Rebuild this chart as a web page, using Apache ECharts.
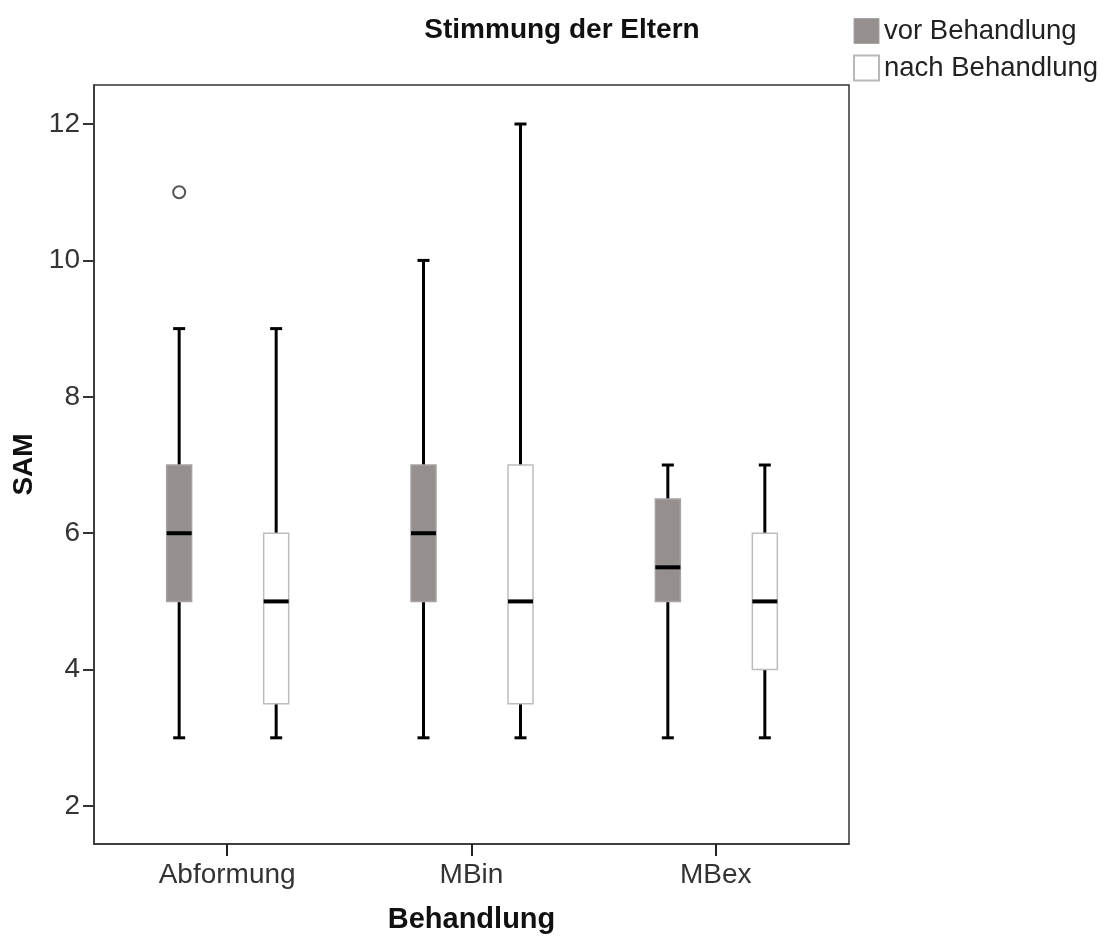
<!DOCTYPE html>
<html>
<head>
<meta charset="utf-8">
<script src="https://cdn.jsdelivr.net/npm/echarts@6/dist/echarts.min.js"></script>
<style>
  html, body { margin: 0; padding: 0; background: #fff; }
  #chart { width: 1106px; height: 942px; }
</style>
</head>
<body>
<div id="chart"></div>
<script>
// Kategorien und Kennwerte [min, Q1, Median, Q3, max]
var categories = ['Abformung', 'MBin', 'MBex'];
var vorStats = [[3, 5, 6, 7, 9], [3, 5, 6, 7, 10], [3, 5, 5.5, 6.5, 7]];
var nachStats = [[3, 3.5, 5, 6, 9], [3, 3.5, 5, 7, 12], [3, 4, 5, 6, 7]];
// Ausreisser: [Kategorie, Wert]
var vorOutliers = [[0, 11]];
var nachOutliers = [];
var yTicks = [2, 4, 6, 8, 10, 12];

var fontFam = '"Liberation Sans", Arial, sans-serif';
var GREY = '#958f8e';

function toData(stats) {
    return stats.map(function (s, i) { return [i].concat(s); });
}

// Box zeichnen, offset = Versatz in px zur Kategoriemitte
function boxRenderer(offset, fill, stroke) {
    return function (params, api) {
        var c = api.value(0);
        var pMin = api.coord([c, api.value(1)]);
        var pQ1 = api.coord([c, api.value(2)]);
        var pMed = api.coord([c, api.value(3)]);
        var pQ3 = api.coord([c, api.value(4)]);
        var pMax = api.coord([c, api.value(5)]);
        var x = pMin[0] + offset;
        var bw = 25, cw = 12;
        var wStyle = { stroke: '#000', lineWidth: 3 };
        return {
            type: 'group',
            children: [
                { type: 'line', shape: { x1: x, y1: pMin[1], x2: x, y2: pQ1[1] }, style: wStyle },
                { type: 'line', shape: { x1: x, y1: pQ3[1], x2: x, y2: pMax[1] }, style: wStyle },
                { type: 'line', shape: { x1: x - cw / 2, y1: pMin[1], x2: x + cw / 2, y2: pMin[1] }, style: wStyle },
                { type: 'line', shape: { x1: x - cw / 2, y1: pMax[1], x2: x + cw / 2, y2: pMax[1] }, style: wStyle },
                { type: 'rect', shape: { x: x - bw / 2, y: pQ3[1], width: bw, height: pQ1[1] - pQ3[1] },
                  style: { fill: fill, stroke: stroke, lineWidth: 1.5 } },
                { type: 'line', shape: { x1: x - bw / 2, y1: pMed[1], x2: x + bw / 2, y2: pMed[1] },
                  style: { stroke: '#000', lineWidth: 4 } }
            ]
        };
    };
}

var chart = echarts.init(document.getElementById('chart'));

chart.setOption({
    backgroundColor: '#fff',
    animation: false,
    textStyle: { fontFamily: fontFam },
    title: {
        text: 'Stimmung der Eltern',
        left: 557,
        top: 11,
        textAlign: 'center',
        textStyle: { fontFamily: fontFam, fontSize: 28, fontWeight: 'bold', color: '#111' }
    },
    legend: {
        orient: 'vertical',
        left: 853,
        top: 17,
        padding: 0,
        itemWidth: 25,
        itemHeight: 25,
        itemGap: 9,
        icon: 'rect',
        textStyle: { fontFamily: fontFam, fontSize: 27.5, color: '#222', padding: [0, 0, 0, 0] },
        data: [
            { name: 'vor Behandlung', itemStyle: { color: GREY, borderColor: '#a8a3a2', borderWidth: 1 } },
            { name: 'nach Behandlung', itemStyle: { color: '#fff', borderColor: '#b8b8b8', borderWidth: 2 } }
        ]
    },
    grid: {
        left: 94,
        right: 257,
        top: 85,
        bottom: 98,
        show: true,
        borderColor: '#333',
        borderWidth: 1.5,
        backgroundColor: '#fff'
    },
    xAxis: {
        type: 'value',
        min: -0.545,
        max: 2.545,
        name: 'Behandlung',
        nameLocation: 'middle',
        nameGap: 61,
        nameTextStyle: { fontFamily: fontFam, fontSize: 29, fontWeight: 'bold', color: '#111' },
        splitLine: { show: false },
        axisLine: { show: true, onZero: false, lineStyle: { color: '#333', width: 1.5 } },
        axisTick: { show: true, length: 12, lineStyle: { color: '#222', width: 2 }, customValues: [0, 1, 2] },
        axisLabel: {
            customValues: [0, 1, 2],
            margin: 17,
            fontSize: 28,
            color: '#333',
            formatter: function (v) { return categories[Math.round(v)]; }
        }
    },
    yAxis: {
        type: 'value',
        min: 1.443,
        max: 12.572,
        name: 'SAM',
        nameLocation: 'middle',
        nameGap: 56,
        nameRotate: 90,
        nameTextStyle: { fontFamily: fontFam, fontSize: 28, fontWeight: 'bold', color: '#111' },
        splitLine: { show: false },
        axisLine: { show: true, onZero: false, lineStyle: { color: '#333', width: 1.5 } },
        axisTick: { show: true, length: 11, lineStyle: { color: '#333', width: 2 }, customValues: yTicks },
        axisLabel: { customValues: yTicks, margin: 14, fontSize: 28, color: '#333' }
    },
    series: [
        {
            name: 'vor Behandlung',
            type: 'custom',
            itemStyle: { color: GREY },
            renderItem: boxRenderer(-48, GREY, '#a8a3a2'),
            encode: { x: 0, y: [1, 2, 3, 4, 5] },
            data: toData(vorStats)
        },
        {
            name: 'nach Behandlung',
            type: 'custom',
            itemStyle: { color: '#fff' },
            renderItem: boxRenderer(49, '#fff', '#bdbdbd'),
            encode: { x: 0, y: [1, 2, 3, 4, 5] },
            data: toData(nachStats)
        },
        {
            name: 'Ausreisser',
            type: 'custom',
            renderItem: function (params, api) {
                var p = api.coord([api.value(0), api.value(1)]);
                var off = api.value(2);
                return {
                    type: 'circle',
                    shape: { cx: p[0] + off, cy: p[1], r: 6 },
                    style: { fill: '#fff', stroke: '#555', lineWidth: 2 }
                };
            },
            encode: { x: 0, y: 1 },
            data: vorOutliers.map(function (o) { return [o[0], o[1], -48]; })
                .concat(nachOutliers.map(function (o) { return [o[0], o[1], 49]; }))
        }
    ]
});
</script>
</body>
</html>
